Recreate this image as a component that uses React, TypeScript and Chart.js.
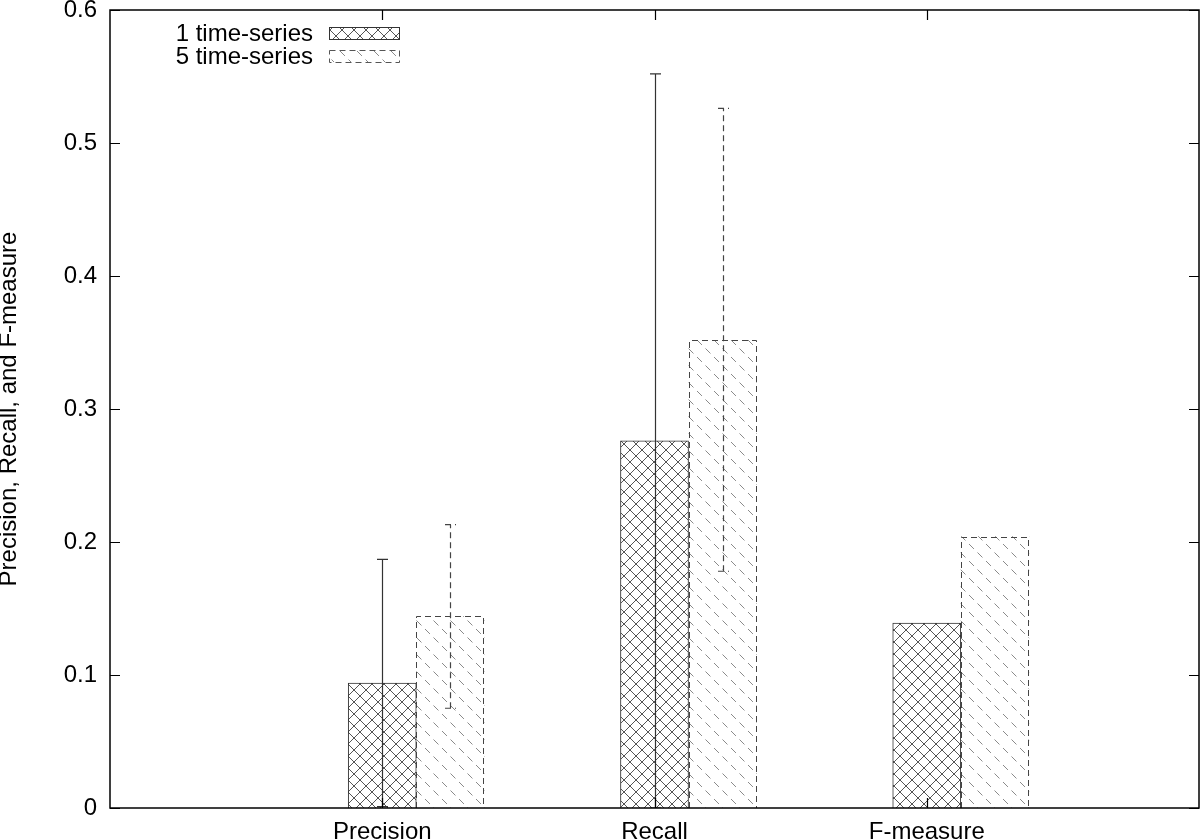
import React, { useEffect, useRef } from 'react';
import { Chart, registerables } from 'chart.js';

Chart.register(...registerables);

const categories = ['Precision', 'Recall', 'F-measure'];
const seriesNames = ['1 time-series', '5 time-series'];
const oneSeries = [0.094, 0.276, 0.139];
const oneSeriesErr: (number | null)[] = [0.093, 0.276, null];
const fiveSeries = [0.144, 0.352, 0.204];
const fiveSeriesErr: (number | null)[] = [0.069, 0.174, null];
const yMin = 0;
const yMax = 0.6;
const yStep = 0.1;
const xMin = -1;
const xMax = 3;
const groupOffset = 0.25;

const FONT = '"Liberation Sans", Arial, Helvetica, sans-serif';
const FS = 24;

function makeCross(): CanvasPattern | string {
  const s = 12;
  const c = document.createElement('canvas');
  c.width = s;
  c.height = s;
  const g = c.getContext('2d')!;
  g.fillStyle = '#ffffff';
  g.fillRect(0, 0, s, s);
  g.strokeStyle = '#555555';
  g.lineWidth = 1;
  g.beginPath();
  g.moveTo(-1, -1);
  g.lineTo(s + 1, s + 1);
  g.moveTo(-1, s + 1);
  g.lineTo(s + 1, -1);
  g.stroke();
  return g.createPattern(c, 'repeat') || '#ffffff';
}

function makeDash(): CanvasPattern | string {
  const s = 17;
  const c = document.createElement('canvas');
  c.width = s;
  c.height = s;
  const g = c.getContext('2d')!;
  g.fillStyle = '#ffffff';
  g.fillRect(0, 0, s, s);
  g.strokeStyle = '#8a8a8a';
  g.lineWidth = 1;
  const len = Math.sqrt(2) * s;
  g.setLineDash([len / 2 - 5, 5]);
  g.beginPath();
  g.moveTo(0, 0);
  g.lineTo(s, s);
  g.stroke();
  return g.createPattern(c, 'repeat') || '#ffffff';
}

function zeroPad(s: any) {
  s.paddingTop = 0;
  s.paddingBottom = 0;
  s.paddingLeft = 0;
  s.paddingRight = 0;
}

export default function App() {
  const ref = useRef<HTMLCanvasElement | null>(null);

  useEffect(() => {
    const canvas = ref.current;
    if (!canvas) return;
    Chart.defaults.font.family = FONT;
    const cross = makeCross();
    const dash = makeDash();
    const errs = [oneSeriesErr, fiveSeriesErr];

    const overlay = {
      id: 'gnuplotOverlay',
      afterDatasetsDraw(chart: any) {
        const ctx: CanvasRenderingContext2D = chart.ctx;
        const area = chart.chartArea;
        const xs = chart.scales.x;
        const ys = chart.scales.y;

        // dashed outline for series 2 bars
        const meta2 = chart.getDatasetMeta(1);
        ctx.save();
        ctx.strokeStyle = '#444444';
        ctx.lineWidth = 1;
        ctx.setLineDash([6, 4]);
        meta2.data.forEach((el: any) => {
          const p = el.getProps(['x', 'y', 'base', 'width'], true);
          const l = Math.round(p.x - p.width / 2) + 0.5;
          const r = Math.round(p.x + p.width / 2) - 0.5;
          const t = Math.round(p.y) + 0.5;
          const b = Math.round(p.base);
          ctx.beginPath();
          ctx.moveTo(l, b);
          ctx.lineTo(l, t);
          ctx.lineTo(r, t);
          ctx.lineTo(r, b);
          ctx.stroke();
        });
        ctx.restore();

        // error bars
        ctx.save();
        ctx.beginPath();
        ctx.rect(area.left, area.top, area.right - area.left, area.bottom - area.top);
        ctx.clip();
        chart.data.datasets.forEach((ds: any, di: number) => {
          ctx.strokeStyle = di === 0 ? '#333333' : '#444444';
          ctx.lineWidth = 1.2;
          ctx.setLineDash(di === 0 ? [] : [6, 4]);
          ds.data.forEach((pt: any, j: number) => {
            const e = errs[di][j];
            if (e == null) return;
            const px = Math.round(xs.getPixelForValue(pt.x)) + 0.5;
            const yh = ys.getPixelForValue(pt.y + e);
            const yl = ys.getPixelForValue(pt.y - e);
            ctx.beginPath();
            ctx.moveTo(px, yl);
            ctx.lineTo(px, yh);
            ctx.moveTo(px - 5.5, yh);
            ctx.lineTo(px + 5.5, yh);
            ctx.moveTo(px - 5.5, yl);
            ctx.lineTo(px + 5.5, yl);
            ctx.stroke();
          });
        });
        ctx.restore();

        // frame and inward ticks
        ctx.save();
        ctx.strokeStyle = '#000000';
        ctx.lineWidth = 1.5;
        ctx.setLineDash([]);
        ctx.strokeRect(area.left, area.top, area.right - area.left, area.bottom - area.top);
        ctx.lineWidth = 1.2;
        ctx.beginPath();
        for (let v = yMin; v <= yMax + 1e-9; v += yStep) {
          const py = Math.round(ys.getPixelForValue(v)) + 0.5;
          ctx.moveTo(area.left, py);
          ctx.lineTo(area.left + 10, py);
          ctx.moveTo(area.right, py);
          ctx.lineTo(area.right - 10, py);
        }
        categories.forEach((_, i) => {
          const px = Math.round(xs.getPixelForValue(i)) + 0.5;
          ctx.moveTo(px, area.top);
          ctx.lineTo(px, area.top + 10);
          ctx.moveTo(px, area.bottom);
          ctx.lineTo(px, area.bottom - 10);
        });
        ctx.stroke();
        ctx.restore();

        // legend (gnuplot style: text then swatch)
        ctx.save();
        ctx.font = `${FS}px ${FONT}`;
        ctx.fillStyle = '#000000';
        ctx.textAlign = 'right';
        ctx.textBaseline = 'middle';
        const textRight = area.left + 203;
        const swL = area.left + 219;
        const swW = 70;
        const swH = 12;
        seriesNames.forEach((name, i) => {
          const cy = area.top + 23 + i * 23;
          ctx.fillText(name, textRight, cy + 1);
          ctx.fillStyle = i === 0 ? (cross as any) : (dash as any);
          ctx.fillRect(swL, cy - swH / 2, swW, swH);
          ctx.strokeStyle = i === 0 ? '#333333' : '#555555';
          ctx.lineWidth = 1;
          ctx.setLineDash(i === 0 ? [] : [6, 4]);
          ctx.strokeRect(swL + 0.5, Math.round(cy - swH / 2) + 0.5, swW, swH);
          ctx.fillStyle = '#000000';
        });
        ctx.restore();
      },
    };

    const chart = new Chart(canvas, {
      type: 'bar',
      data: {
        datasets: [
          {
            label: seriesNames[0],
            data: categories.map((_, i) => ({ x: i, y: oneSeries[i] })) as any,
            backgroundColor: cross as any,
            borderColor: '#333333',
            borderWidth: 1,
            grouped: false,
            barPercentage: 1,
            categoryPercentage: 1,
          },
          {
            label: seriesNames[1],
            data: categories.map((_, i) => ({ x: i + groupOffset, y: fiveSeries[i] })) as any,
            backgroundColor: dash as any,
            borderWidth: 0,
            grouped: false,
            barPercentage: 1,
            categoryPercentage: 1,
          },
        ],
      },
      options: {
        responsive: false,
        animation: false,
        events: [],
        layout: { padding: { top: 10, right: 1, left: 0, bottom: 0 } },
        plugins: {
          legend: { display: false },
          tooltip: { enabled: false },
          title: { display: false },
        },
        scales: {
          x: {
            type: 'linear',
            min: xMin,
            max: xMax,
            offset: false,
            grid: { display: false, drawTicks: false },
            border: { display: false },
            ticks: {
              stepSize: 1,
              autoSkip: false,
              maxRotation: 0,
              padding: 10,
              color: '#000000',
              font: { size: FS, family: FONT },
              callback: (v: any) => categories[v as number] ?? '',
            },
            afterFit: (s: any) => {
              s.height = 32;
              zeroPad(s);
            },
          },
          y: {
            min: yMin,
            max: yMax,
            grid: { display: false, drawTicks: false },
            border: { display: false },
            ticks: {
              stepSize: yStep,
              padding: 13,
              color: '#000000',
              font: { size: FS, family: FONT, lineHeight: 0.8 },
              callback: (v: any) => String(Number(Number(v).toFixed(1))),
            },
            title: {
              display: true,
              text: 'Precision, Recall, and F-measure',
              color: '#000000',
              padding: 0,
              font: { size: FS, family: FONT, lineHeight: 0.75 },
            },
            afterFit: (s: any) => {
              s.width = 110;
              zeroPad(s);
            },
          },
        },
      },
      plugins: [overlay],
    });

    return () => {
      chart.destroy();
    };
  }, []);

  return (
    <div style={{ position: 'fixed', left: 0, top: 0, width: 1200, height: 840, background: '#ffffff' }}>
      <canvas ref={ref} width={1200} height={840} style={{ width: 1200, height: 840, display: 'block' }} />
    </div>
  );
}
